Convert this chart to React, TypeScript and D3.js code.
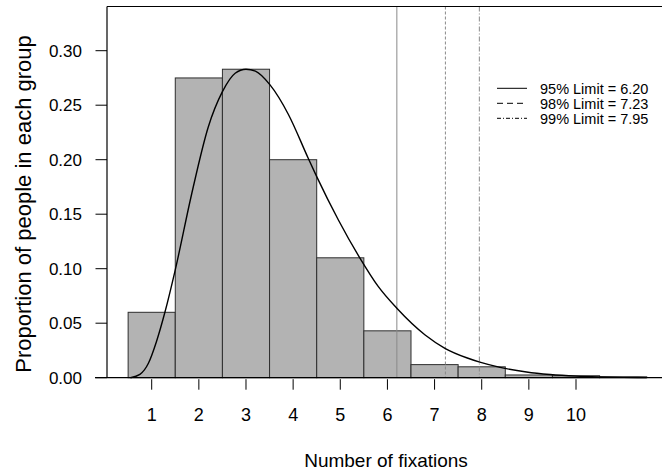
import React from "react";
import * as d3 from "d3";

// histogram bins (centre = number of fixations)
const binCentres = [1, 2, 3, 4, 5, 6, 7, 8, 9, 10, 11];
const binProportions = [0.06, 0.275, 0.283, 0.2, 0.11, 0.043, 0.012, 0.01, 0.0025, 0.0018, 0.0008];

// fitted density curve
const curveX = [0.55, 0.75, 0.93, 1.1, 1.28, 1.5, 1.85, 2.2, 2.5, 2.77, 3.0, 3.2, 3.51, 3.9, 4.32, 4.5, 4.96, 5.42, 5.8, 6.2, 6.8, 7.22, 7.68, 7.96, 8.39, 8.95, 9.45, 10.0, 10.5, 11.0, 11.5];
const curveY = [0, 0.003, 0.0132, 0.033, 0.06, 0.099, 0.169, 0.23, 0.2624, 0.2793, 0.283, 0.2812, 0.2686, 0.2415, 0.2013, 0.1845, 0.1447, 0.1095, 0.084, 0.0637, 0.0392, 0.027, 0.0183, 0.0143, 0.0095, 0.0052, 0.0029, 0.0014, 0.0007, 0.0003, 0.0001];

const xTicks = [1, 2, 3, 4, 5, 6, 7, 8, 9, 10];
const yTicks = [0, 0.05, 0.1, 0.15, 0.2, 0.25, 0.3];

const limitLabels = ["95% Limit = 6.20", "98% Limit = 7.23", "99% Limit = 7.95"];
const limitValues = [6.2, 7.23, 7.95];
const limitDash = ["none", "3,2", "5,2,1,2"];
const legendDash = ["none", "6,4", "4,2,1,2"];

const FONT = "Liberation Sans, Arial, sans-serif";

export default function App() {
  const width = 662;
  const height = 476;
  const plotLeft = 107;
  const plotTop = 6.5;
  const plotRight = 662;

  const x = d3.scaleLinear().domain([1, 10]).range([151.7, 576]);
  const y = d3.scaleLinear().domain([0, 0.3]).range([377.7, 50.7]);
  const base = y(0);

  const line = d3
    .line<number>()
    .x((d, i) => x(curveX[i]))
    .y((d) => y(d))
    .curve(d3.curveMonotoneX);

  return (
    <svg
      width={width}
      height={height}
      style={{ position: "fixed", left: 0, top: 0, background: "#fff" }}
      fontFamily={FONT}
    >
      <rect width={width} height={height} fill="#fff" />

      {binCentres.map((c, i) => (
        <rect
          key={c}
          x={x(c - 0.5)}
          y={y(binProportions[i])}
          width={x(c + 0.5) - x(c - 0.5)}
          height={base - y(binProportions[i])}
          fill="#b3b3b3"
          stroke="#2e2e2e"
          strokeWidth={1}
        />
      ))}

      {limitValues.map((v, i) => (
        <line
          key={v}
          x1={x(v)}
          x2={x(v)}
          y1={plotTop}
          y2={base}
          stroke="#8a8a8a"
          strokeWidth={1}
          strokeDasharray={limitDash[i]}
        />
      ))}

      <path d={line(curveY) || ""} fill="none" stroke="#000" strokeWidth={1.4} />

      {/* frame */}
      <line x1={plotLeft} x2={plotRight} y1={plotTop} y2={plotTop} stroke="#000" strokeWidth={1.2} />
      <line x1={plotLeft} x2={plotLeft} y1={plotTop} y2={base} stroke="#000" strokeWidth={1.2} />
      <line x1={95} x2={plotRight} y1={base} y2={base} stroke="#000" strokeWidth={1.2} />

      {/* y axis */}
      {yTicks.map((t) => (
        <g key={t}>
          <line x1={95.5} x2={plotLeft} y1={y(t)} y2={y(t)} stroke="#000" strokeWidth={1} />
          <text x={82} y={y(t)} dy="0.36em" textAnchor="end" fontSize={17}>
            {d3.format(".2f")(t)}
          </text>
        </g>
      ))}

      {/* x axis */}
      {xTicks.map((t) => (
        <g key={t}>
          <line x1={x(t)} x2={x(t)} y1={base + 1.5} y2={base + 12} stroke="#000" strokeWidth={1} />
          <text x={x(t)} y={420.5} textAnchor="middle" fontSize={18}>
            {t}
          </text>
        </g>
      ))}

      <text x={386} y={467} textAnchor="middle" fontSize={19}>
        Number of fixations
      </text>
      <text
        transform={`translate(31, 204) rotate(-90)`}
        textAnchor="middle"
        fontSize={22}
      >
        Proportion of people in each group
      </text>

      {/* legend */}
      {limitLabels.map((label, i) => (
        <g key={label} transform={`translate(0, ${88.3 + i * 15})`}>
          <line x1={497} x2={527} y1={0} y2={0} stroke="#000" strokeWidth={1} strokeDasharray={legendDash[i]} />
          <text x={540} y={0} dy="0.36em" fontSize={14.5}>
            {label}
          </text>
        </g>
      ))}
    </svg>
  );
}
